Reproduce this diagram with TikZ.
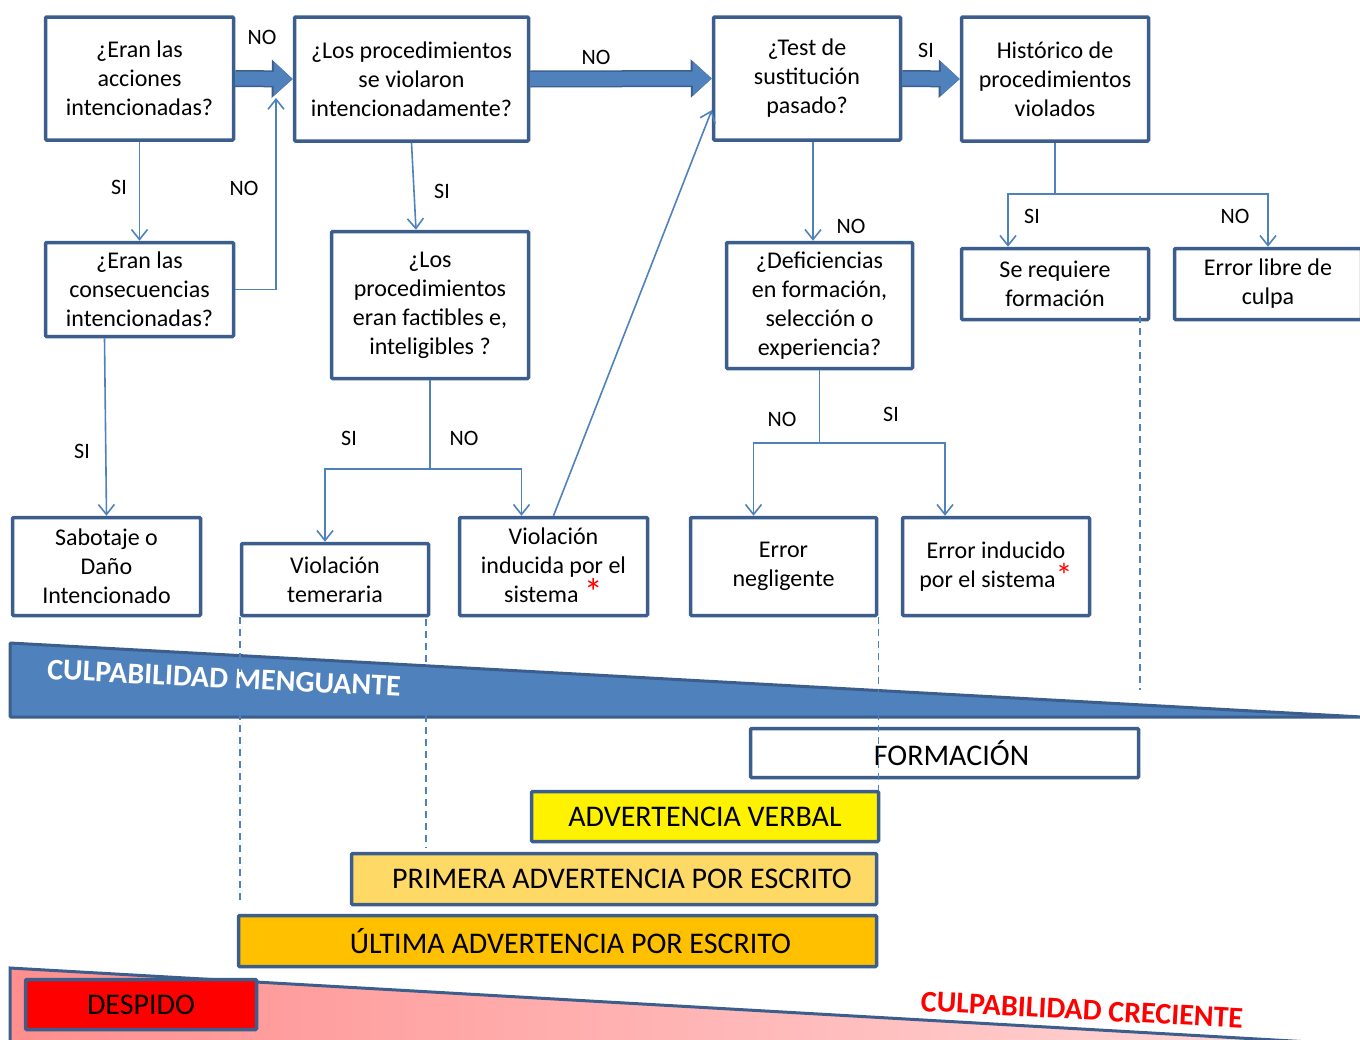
\documentclass[tikz,border=0pt]{standalone}
\usepackage{fontspec}
\setmainfont{Carlito}
\usetikzlibrary{arrows.meta,calc}

\definecolor{boxline}{HTML}{3B5E8C}
\definecolor{linkblue}{HTML}{4F81BD}
\definecolor{pinkdark}{HTML}{FF8E8E}
\definecolor{pinklight}{HTML}{FFD8D8}
\definecolor{orangedark}{HTML}{FFC000}
\definecolor{orangelight}{HTML}{FFD966}

\begin{document}
\begin{tikzpicture}[x=1pt, y=-1pt,
    box/.style={draw=boxline, line width=3.5pt, fill=white, align=center, inner sep=2pt,
        rounded corners=1pt, font=\fontsize{24}{29}\selectfont},
    bar/.style={draw=boxline, line width=3.5pt, rounded corners=1pt, inner sep=0pt,
        font=\fontsize{30}{34}\selectfont},
    lbl/.style={inner sep=0pt, font=\fontsize{22}{26}\selectfont},
    link/.style={draw=linkblue, line width=1.6pt, -{Straight Barb[length=10pt,width=16pt]}},
    fat/.style={draw=linkblue, line width=14pt, -{Triangle[length=19pt,width=33pt]},
        preaction={draw=boxline, line width=17pt, -{Triangle[length=21pt,width=37pt]}}},
    guide/.style={draw=linkblue, line width=1.5pt, dash pattern=on 7pt off 5pt},
    tag/.style={inner sep=0pt, font=\fontsize{30}{34}\bfseries}
]
\useasboundingbox (0,0) rectangle (1360,1039);

% wedges
\filldraw[fill=linkblue, draw=boxline, line width=3pt, rounded corners=1pt]
    (10,643) -- (1362,717) -- (10,717) -- cycle;
\node[tag, text=white, rotate=-2.8] (mengua) at (224,678) {CULPABILIDAD MENGUANTE};

\shade[left color=pinkdark, right color=pinklight] (10,968) -- (1310,1042) -- (10,1042) -- cycle;
\draw[boxline, line width=3pt] (10,1042) -- (10,968) -- (1310,1042);
\node[tag, text=red, rotate=-3.1] (crece) at (1082,1010) {CULPABILIDAD CRECIENTE};

% sanciones
\node[bar, fill=white, minimum width=388pt, minimum height=49pt, text depth=0pt] (formacion) at (944.5,753) {\hspace{14pt}FORMACIÓN};
\node[bar, fill=yellow, minimum width=347pt, minimum height=50pt] (verbal) at (705,816.5) {ADVERTENCIA VERBAL};
\node[bar, fill=orangelight, minimum width=525pt, minimum height=51pt] (primera) at (614,879) {\hspace{16pt}PRIMERA ADVERTENCIA POR ESCRITO};
\node[bar, fill=orangedark, minimum width=638pt, minimum height=51pt] (ultima) at (557.5,941) {\hspace{26pt}ÚLTIMA ADVERTENCIA POR ESCRITO};
\node[bar, fill=red, minimum width=231pt, minimum height=50pt] (despido) at (141,1004.5) {DESPIDO};

% preguntas
\node[box, minimum width=188pt, minimum height=123pt] (acc) at (139.5,78.5) {¿Eran las\\acciones\\intencionadas?};
\node[box, minimum width=234pt, minimum height=124pt] (viol) at (411.5,79) {¿Los procedimientos\\se violaron\\intencionadamente?};
\node[box, minimum width=187pt, minimum height=123pt] (test) at (807,78.5) {¿Test de\\sustitución\\pasado?};
\node[box, minimum width=187pt, minimum height=124pt] (hist) at (1055,79) {Histórico de\\procedimientos\\violados};
\node[box, minimum width=188pt, minimum height=94pt] (cons) at (139.5,289.5) {¿Eran las\\consecuencias\\intencionadas?};
\node[box, minimum width=197pt, minimum height=147pt] (fact) at (430,305) {¿Los\\procedimientos\\eran factibles e,\\inteligibles ?};
\node[box, minimum width=186pt, minimum height=126pt] (defic) at (819.5,305.5) {¿Deficiencias\\en formación,\\selección o\\experiencia?};
\node[box, minimum width=187pt, minimum height=71pt] (form) at (1055,284) {Se requiere\\formación};
\node[box, minimum width=187pt, minimum height=71pt] (libre) at (1268,284) {Error libre de\\culpa};

% resultados
\node[box, minimum width=188pt, minimum height=98pt] (sabot) at (106.5,566.5) {Sabotaje o\\Daño\\Intencionado};
\node[box, minimum width=187pt, minimum height=72pt] (temer) at (335,579.5) {Violación\\temeraria};
\node[box, minimum width=188pt, minimum height=98pt] (induc) at (553.5,566.5) {Violación\\inducida por el\\sistema {\color{red}\fontsize{38}{30}\selectfont\raisebox{-3pt}{*}}};
\node[box, minimum width=186pt, minimum height=98pt] (negl) at (783.5,566.5) {Error\\negligente};
\node[box, minimum width=187pt, minimum height=98pt] (errind) at (996,566.5) {Error inducido\\por el sistema{\color{red}\fontsize{34}{30}\selectfont *}};

% flechas gruesas
\draw[fat] (acc.east) -- (viol.west);
\draw[fat] (viol.east) -- (test.west);
\draw[fat] (test.east) -- (hist.west);

% conexiones
\draw[link] (acc.south) -- (cons.north);
\coordinate (backin) at (276,98);
\draw[link] (cons.east) -| (backin);
\draw[link] (viol.south) -- ([xshift=-14pt]fact.north);
\draw[link] ([xshift=-35pt]cons.south) -- (sabot.north);

\coordinate (factsplit) at ($(fact.south)+(0,89)$);
\draw[link] (fact.south) -- (factsplit) -| ([xshift=-10pt]temer.north);
\draw[link] (factsplit) -| ([xshift=-32pt]induc.north);
\draw[link] (induc.north) -- ($(test.west)!0.5!(test.south west)$);

\draw[link] ([xshift=6pt]test.south) -- ([xshift=-6.5pt]defic.north);
\coordinate (deficsplit) at ($(defic.south)+(0,73)$);
\draw[link] (defic.south) -- (deficsplit) -| ([xshift=-30pt]negl.north);
\draw[link] (deficsplit) -| ([xshift=-51pt]errind.north);

\coordinate (histsplit) at ($(hist.south)+(0,51)$);
\draw[link] (hist.south) -- (histsplit) -| ([xshift=-47pt]form.north);
\draw[link] (histsplit) -| (libre.north);

% etiquetas
\node[lbl] (noacc) at (262,37) {NO};
\node[lbl] (siacc) at (119,187) {SI};
\node[lbl] (nocons) at (244,188) {NO};
\node[lbl] (siviol) at (442,191) {SI};
\node[lbl] (noviol) at (596,57) {NO};
\node[lbl] (sitest) at (926,50) {SI};
\node[lbl] (notest) at (851,226) {NO};
\node[lbl] (sicons) at (82,451) {SI};
\node[lbl] (sifact) at (349,438) {SI};
\node[lbl] (nofact) at (464,438) {NO};
\node[lbl] (nodefic) at (782,419) {NO};
\node[lbl] (sidefic) at (891,414) {SI};
\node[lbl] (sihist) at (1032,216) {SI};
\node[lbl] (nohist) at (1235,216) {NO};

% guias
\coordinate (guideA) at (0,903);
\draw[guide] (temer.south west) -- (temer.south west |- guideA);
\coordinate (guideBtop) at (426,619);
\coordinate (guideBbot) at (426,848);
\draw[guide] (guideBtop) -- (guideBbot);
\draw[guide] (negl.south east) -- (negl.south east |- verbal.north);
\coordinate (guideCtop) at (1140,316);
\coordinate (guideCbot) at (1140,690);
\draw[guide] (guideCtop) -- (guideCbot);
\end{tikzpicture}
\end{document}
